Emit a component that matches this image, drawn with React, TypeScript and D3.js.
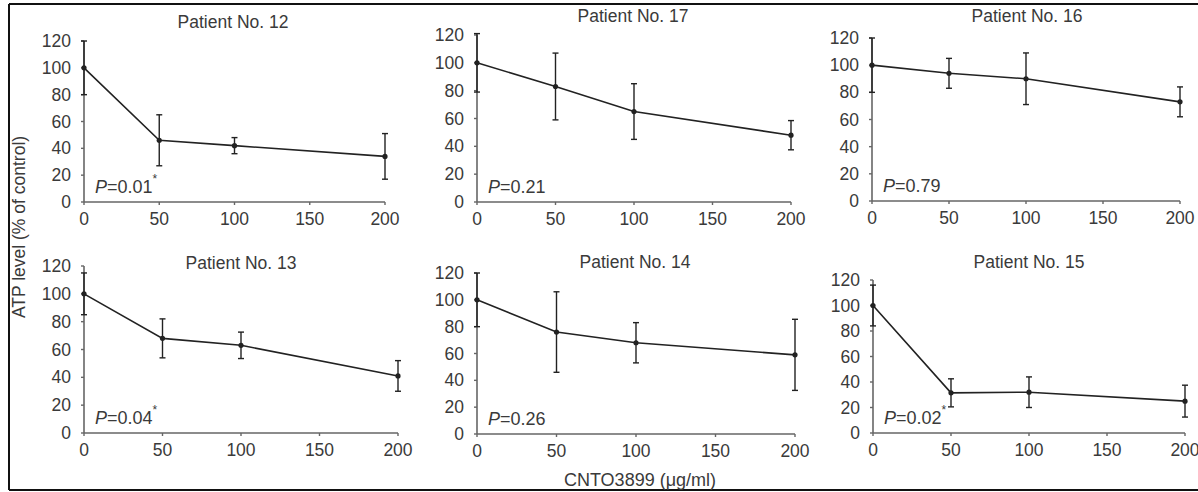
import React from "react";
import * as d3 from "d3";

const doses = [0, 50, 100, 200];
const xTicks = [0, 50, 100, 150, 200];
const yTicks = [0, 20, 40, 60, 80, 100, 120];

const titles = ["Patient No. 12", "Patient No. 17", "Patient No. 16", "Patient No. 13", "Patient No. 14", "Patient No. 15"];
const means12 = [100, 46, 42, 34];
const err12 = [20, 19, 6, 17];
const means17 = [100, 83, 65, 48];
const err17 = [21, 24, 20, 10.5];
const means16 = [100, 94, 90, 73];
const err16 = [20, 11, 19, 11];
const means13 = [100, 68, 63, 41];
const err13 = [15, 14, 9.5, 11];
const means14 = [100, 76, 68, 59];
const err14 = [20, 30, 15, 26.5];
const means15 = [100, 31.5, 32, 25];
const err15 = [16, 11, 12, 12.5];
const pValues = ["0.01", "0.21", "0.79", "0.04", "0.26", "0.02"];
const significant = [true, false, false, true, false, true];

const seriesMeans = [means12, means17, means16, means13, means14, means15];
const seriesErr = [err12, err17, err16, err13, err14, err15];

// layout (pixel frames of each panel)
const frames = [
  { x0: 84, x1: 385, y0: 202, y1: 41, tx: 233, ty: 28 },
  { x0: 477, x1: 791, y0: 202, y1: 35, tx: 633, ty: 22 },
  { x0: 872, x1: 1180, y0: 201, y1: 38, tx: 1027, ty: 22 },
  { x0: 84, x1: 398, y0: 433, y1: 266, tx: 241, ty: 269 },
  { x0: 477, x1: 795, y0: 434, y1: 273, tx: 635, ty: 268 },
  { x0: 873, x1: 1185, y0: 433, y1: 280, tx: 1029, ty: 268 },
];

const FONT = "'Liberation Sans', Arial, Helvetica, sans-serif";
const TEXT = "#3a3a3a";
const AXIS = "#666";
const LINE = "#222";

function Panel({ i }: { i: number }) {
  const f = frames[i];
  const x = d3.scaleLinear().domain([0, 200]).range([f.x0, f.x1]);
  const y = d3.scaleLinear().domain([0, 120]).range([f.y0, f.y1]);
  const means = seriesMeans[i];
  const errs = seriesErr[i];
  const line = d3.line<number>().x((_, k) => x(doses[k])).y((d) => y(d));
  return (
    <g>
      <text x={f.tx} y={f.ty} textAnchor="middle" fontSize={17.5} fill={TEXT} fontFamily={FONT}>{titles[i]}</text>
      <line x1={f.x0} x2={f.x0} y1={y(0)} y2={y(120)} stroke={AXIS} strokeWidth={1.6} />
      {yTicks.map((t) => (
        <g key={"y" + t}>
          <line x1={f.x0 - 3} x2={f.x0} y1={y(t)} y2={y(t)} stroke={AXIS} strokeWidth={1.4} />
          <text x={f.x0 - 13} y={y(t) + 6} textAnchor="end" fontSize={17.5} fill={TEXT} fontFamily={FONT}>{t}</text>
        </g>
      ))}
      <line x1={x(0)} x2={x(200)} y1={f.y0} y2={f.y0} stroke={AXIS} strokeWidth={1.6} />
      {xTicks.map((t) => (
        <g key={"x" + t}>
          <line x1={x(t)} x2={x(t)} y1={f.y0} y2={f.y0 + 3} stroke={AXIS} strokeWidth={1.4} />
          <text x={x(t)} y={f.y0 + 23} textAnchor="middle" fontSize={17.5} fill={TEXT} fontFamily={FONT}>{t}</text>
        </g>
      ))}
      {means.map((m, k) => (
        <g key={"e" + k} stroke={LINE} strokeWidth={1.4}>
          <line x1={x(doses[k])} x2={x(doses[k])} y1={y(m - errs[k])} y2={y(m + errs[k])} />
          <line x1={x(doses[k]) - 3} x2={x(doses[k]) + 3} y1={y(m - errs[k])} y2={y(m - errs[k])} />
          <line x1={x(doses[k]) - 3} x2={x(doses[k]) + 3} y1={y(m + errs[k])} y2={y(m + errs[k])} />
        </g>
      ))}
      <path d={line(means) || ""} fill="none" stroke={LINE} strokeWidth={1.6} />
      {means.map((m, k) => (
        <circle key={"c" + k} cx={x(doses[k])} cy={y(m)} r={2.6} fill={LINE} />
      ))}
      <text x={f.x0 + 11} y={f.y0 - 9} fontSize={18} fill={TEXT} fontFamily={FONT}>
        <tspan fontStyle="italic">P</tspan>
        <tspan>={pValues[i]}</tspan>
        {significant[i] ? <tspan dy={-10} fontSize={12}>*</tspan> : null}
      </text>
    </g>
  );
}

export default function App() {
  return (
    <svg width={1198} height={492} style={{ position: "absolute", left: 0, top: 0, background: "#fff" }}>
      <rect x={0} y={0} width={1198} height={492} fill="#fff" />
      <line x1={9} x2={1198} y1={4} y2={4} stroke="#111" strokeWidth={2} />
      <line x1={9} x2={9} y1={4} y2={490} stroke="#111" strokeWidth={2} />
      <line x1={9} x2={1198} y1={490} y2={490} stroke="#111" strokeWidth={2} />
      {frames.map((_, i) => (
        <Panel key={i} i={i} />
      ))}
      <text transform="translate(25,227) rotate(-90)" textAnchor="middle" fontSize={17.5} fill={TEXT} fontFamily={FONT}>ATP level (% of control)</text>
      <text x={640} y={486} textAnchor="middle" fontSize={18} fill={TEXT} fontFamily={FONT}>CNTO3899 (μg/ml)</text>
    </svg>
  );
}
